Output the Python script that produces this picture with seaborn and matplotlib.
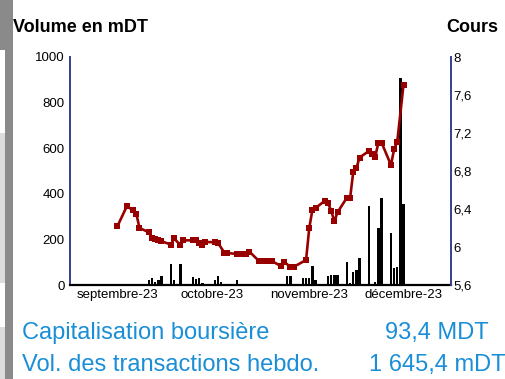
import matplotlib
matplotlib.use("Agg")
import matplotlib.pyplot as plt
import matplotlib.dates as mdates
from matplotlib.patches import Rectangle
import pandas as pd
import seaborn as sns

# Weekly trading volume (mDT) per session
vol_dates = [
    "2023-09-01", "2023-09-11", "2023-09-12", "2023-09-13", "2023-09-14", "2023-09-15",
    "2023-09-18", "2023-09-19", "2023-09-21", "2023-09-22", "2023-09-25", "2023-09-26",
    "2023-09-27", "2023-09-28", "2023-10-02", "2023-10-03", "2023-10-04", "2023-10-06",
    "2023-10-09", "2023-10-11", "2023-10-16", "2023-10-17", "2023-10-18", "2023-10-19",
    "2023-10-20", "2023-10-24", "2023-10-25", "2023-10-26", "2023-10-27", "2023-10-30",
    "2023-10-31", "2023-11-01", "2023-11-02", "2023-11-03", "2023-11-07", "2023-11-08",
    "2023-11-09", "2023-11-10", "2023-11-13", "2023-11-14", "2023-11-15", "2023-11-16",
    "2023-11-17", "2023-11-20", "2023-11-21", "2023-11-22", "2023-11-23", "2023-11-24",
    "2023-11-27", "2023-11-28", "2023-11-29", "2023-11-30", "2023-12-01",
]
vol_values = [
    4, 20, 30, 12, 22, 40,
    92, 22, 92, 6, 34, 28,
    30, 8, 20, 38, 15, 5,
    22, 6, 5, 5, 5, 5,
    4, 5, 40, 40, 5, 30,
    30, 30, 83, 22, 40, 46,
    46, 46, 102, 10, 58, 66,
    117, 347, 5, 12, 249, 382,
    230.2, 72.5, 80.3, 908.0, 354.4,
]

# Closing price (DT)
price_dates = [
    "2023-09-01", "2023-09-04", "2023-09-06", "2023-09-07", "2023-09-08", "2023-09-11",
    "2023-09-12", "2023-09-13", "2023-09-14", "2023-09-15", "2023-09-18", "2023-09-19",
    "2023-09-21", "2023-09-22", "2023-09-25", "2023-09-26", "2023-09-27", "2023-09-28",
    "2023-09-29", "2023-10-02", "2023-10-03", "2023-10-05", "2023-10-06", "2023-10-09",
    "2023-10-10", "2023-10-11", "2023-10-12", "2023-10-13", "2023-10-16", "2023-10-17",
    "2023-10-18", "2023-10-19", "2023-10-20", "2023-10-23", "2023-10-24",
    "2023-10-26", "2023-10-27", "2023-10-31", "2023-11-01", "2023-11-02",
    "2023-11-03", "2023-11-06", "2023-11-07", "2023-11-08", "2023-11-09", "2023-11-10",
    "2023-11-13", "2023-11-14", "2023-11-15", "2023-11-16", "2023-11-17", "2023-11-20",
    "2023-11-21", "2023-11-22", "2023-11-23", "2023-11-24", "2023-11-27", "2023-11-28",
    "2023-11-29", "2023-12-01",
]
price_values = [
    6.22, 6.43, 6.385, 6.35, 6.20, 6.155,
    6.09, 6.08, 6.07, 6.06, 6.026, 6.09,
    6.021, 6.07, 6.07, 6.07, 6.04, 6.02,
    6.053, 6.05, 6.042, 5.94, 5.937, 5.926,
    5.926, 5.926, 5.926, 5.95, 5.853, 5.853,
    5.853, 5.853, 5.853, 5.80, 5.845,
    5.79, 5.79, 5.863, 6.197, 6.39,
    6.41, 6.487, 6.46, 6.38, 6.27, 6.365,
    6.52, 6.513, 6.79, 6.828, 6.942, 7.01,
    6.98, 6.95, 7.10, 7.10, 6.863, 7.028,
    7.108, 7.71,
]

month_ticks = ["2023-09-01", "2023-10-01", "2023-11-01", "2023-12-01"]
month_labels = ["septembre-23", "octobre-23", "novembre-23", "décembre-23"]

vol_ticks = [0, 200, 400, 600, 800, 1000]
price_ticks = [5.6, 6.0, 6.4, 6.8, 7.2, 7.6, 8.0]
price_tick_labels = ["5,6", "6", "6,4", "6,8", "7,2", "7,6", "8"]

summary_labels = ["Capitalisation boursière", "Vol. des transactions hebdo."]
summary_values = ["93,4 MDT", "1 645,4 mDT"]

sns.set_style("white")
plt.rcParams["font.family"] = ["Liberation Sans", "DejaVu Sans"]

vol_df = pd.DataFrame({"date": pd.to_datetime(vol_dates), "volume": vol_values})
price_df = pd.DataFrame({"date": pd.to_datetime(price_dates), "cours": price_values})

W, H = 506, 379
fig = plt.figure(figsize=(W / 100, H / 100), dpi=100)
fig.patch.set_facecolor("white")

# side strip on the left edge
def px_rect(x0, y0, x1, y1, color):
    fig.patches.append(Rectangle((x0 / W, 1 - y1 / H), (x1 - x0) / W, (y1 - y0) / H,
                                 transform=fig.transFigure, facecolor=color,
                                 edgecolor="none", zorder=0))

px_rect(4.5, 0, 13, H, "#8a8a8a")
px_rect(0, 0, 4.5, 50, "#8a8a8a")
px_rect(0, 133, 4.5, 283, "#dcdcdc")
px_rect(0, 327, 4.5, H, "#dcdcdc")

ax = fig.add_axes([70 / W, 1 - 285 / H, (451 - 70) / W, (285 - 57) / H])
ax.set_facecolor("none")

sep1 = mdates.date2num(pd.Timestamp("2023-09-01"))

# volume bars
ax.bar(mdates.date2num(vol_df["date"]), vol_df["volume"], width=0.75,
       color="black", linewidth=0, zorder=2)
ax.set_ylim(0, 1000)
ax.set_yticks(vol_ticks)
ax.set_yticklabels([str(v) for v in vol_ticks])
ax.set_xlim(sep1 - 15.1, sep1 + 106.1)

# price line on secondary axis
ax2 = ax.twinx()
sns.lineplot(x=mdates.date2num(price_df["date"]), y=price_df["cours"], ax=ax2,
             color="#980000", linewidth=1.9, marker="s", markersize=4.0,
             markeredgewidth=0, markerfacecolor="#980000", zorder=3)
ax2.set_ylim(5.6, 8.0)
ax2.set_yticks(price_ticks)
ax2.set_yticklabels(price_tick_labels)
ax2.set_xlim(sep1 - 15.1, sep1 + 106.1)
ax2.set_ylabel("")
ax2.set_xlabel("")

ax.set_xticks(mdates.date2num(pd.to_datetime(month_ticks)))
ax.set_xticklabels(month_labels)

spine_blue = "#35408a"
for a in (ax, ax2):
    a.spines["top"].set_visible(False)
    a.spines["left"].set_visible(False)
    a.spines["right"].set_visible(False)
    a.spines["bottom"].set_visible(False)
    a.grid(False)
ax.spines["left"].set_visible(True)
ax.spines["left"].set_color(spine_blue)
ax.spines["left"].set_linewidth(1.4)
ax2.spines["right"].set_visible(True)
ax2.spines["right"].set_color(spine_blue)
ax2.spines["right"].set_linewidth(1.4)
ax.spines["bottom"].set_visible(True)
ax.spines["bottom"].set_color("black")
ax.spines["bottom"].set_linewidth(1.6)
ax.spines["bottom"].set_zorder(4)

ax.tick_params(axis="y", length=0, pad=4, labelsize=9.5, colors="black")
ax.tick_params(axis="x", length=0, pad=3, labelsize=9.5, colors="black")
ax2.tick_params(axis="y", length=0, pad=2, labelsize=9.5, colors="black")

fig.text(13 / W, 1 - 32 / H, "Volume en mDT", fontsize=13, fontweight="bold",
         ha="left", va="baseline", color="black")
fig.text(446 / W, 1 - 32 / H, "Cours", fontsize=13, fontweight="bold",
         ha="left", va="baseline", color="black")

blue = "#1a8ed6"
for i, (lab, val) in enumerate(zip(summary_labels, summary_values)):
    yb = 1 - (339.5 + 31.5 * i) / H
    fig.text(22 / W, yb, lab, fontsize=17, color=blue, ha="left", va="baseline")
    fig.text(437 / W, yb, val, fontsize=17, color=blue, ha="center", va="baseline")

fig.savefig("out.png", dpi=100)
